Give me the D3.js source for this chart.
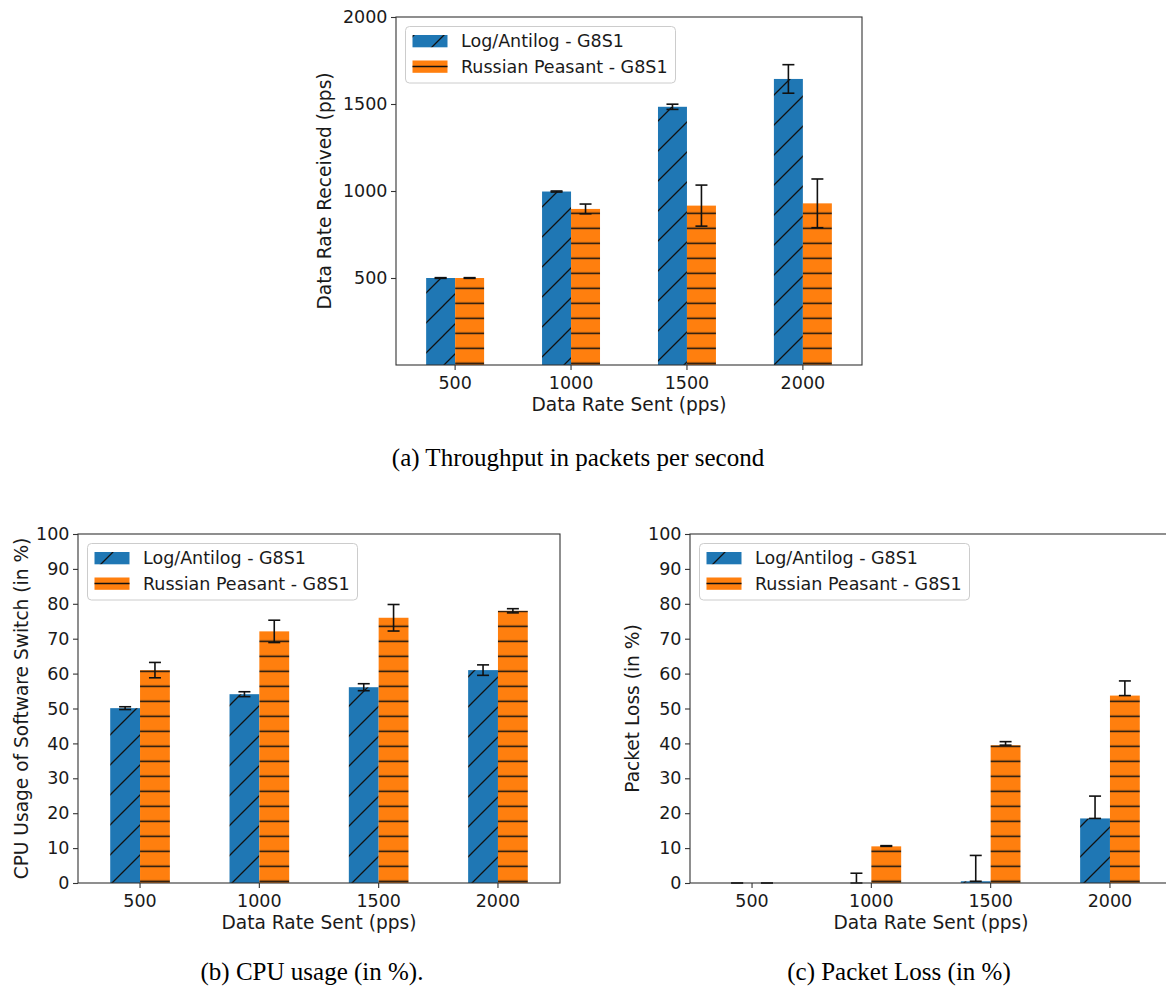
<!DOCTYPE html>
<html><head><meta charset="utf-8">
<script src="https://cdn.jsdelivr.net/npm/d3@7"></script>
<style>body{margin:0;background:#fff}svg{display:block}</style>
</head><body>
<script>
// ---------- data ----------
const categories = ["500", "1000", "1500", "2000"];
const seriesNames = ["Log/Antilog - G8S1", "Russian Peasant - G8S1"];

// (a) throughput (pps)
const throughputLog = [500, 997, 1484, 1644];
const throughputRP = [500, 897, 916, 929];
const throughputLogErr = [2, 3, 15, 82];
const throughputRPErr = [2, 28, 118, 140];
const throughputTicks = [500, 1000, 1500, 2000];

// (b) CPU usage (%)
const cpuLog = [50.1, 54.1, 56.1, 61.0];
const cpuRP = [61.0, 72.1, 76.0, 78.0];
const cpuLogErr = [0.4, 0.7, 1.0, 1.5];
const cpuRPErr = [2.2, 3.2, 3.8, 0.6];

// (c) packet loss (%), one-sided (upper) error
const lossLog = [0, 0, 0.5, 18.5];
const lossRP = [0, 10.5, 39.5, 53.7];
const lossLogErrUp = [0, 2.8, 7.4, 6.4];
const lossRPErrUp = [0, 0.2, 1.0, 4.2];

const percentTicks = [0, 10, 20, 30, 40, 50, 60, 70, 80, 90, 100];
const captions = ["(a) Throughput in packets per second", "(b) CPU usage (in %).", "(c) Packet Loss (in %)"];

// ---------- setup ----------
const W = 1166, H = 989;
const BLUE = "#1f77b4", ORANGE = "#ff7f0e";
const FONT = "'DejaVu Sans', sans-serif";
const SERIF = "'Liberation Serif', 'Times New Roman', serif";
const TXT = "#1a1a1a";

const svg = d3.select("body").append("svg").attr("width", W).attr("height", H);
svg.append("rect").attr("width", W).attr("height", H).attr("fill", "#fff");
const defs = svg.append("defs");

function panel(cfg) {
  const { id, left, top, width, height, yMax, yTicks, ylabel, xlabel, vals, errLo, errUp, legendW } = cfg;
  const bottom = top + height;
  const x = d3.scaleBand().domain(categories).range([left, left + width]).paddingInner(0).paddingOuter(cfg.pad);
  const y = d3.scaleLinear().domain([0, yMax]).range([bottom, top]);
  const bw = x.bandwidth() * 0.25;

  // hatch patterns
  const pd = defs.append("pattern").attr("id", id + "-diag").attr("patternUnits", "userSpaceOnUse")
    .attr("width", 30).attr("height", 30).attr("x", left + cfg.diagPhase).attr("y", bottom);
  pd.append("rect").attr("width", 30).attr("height", 30).attr("fill", BLUE);
  pd.append("path").attr("d", "M-3,33L33,-3M-3,3L3,-3M27,33L33,27").attr("stroke", "#111").attr("stroke-width", 1.3);
  const ph = defs.append("pattern").attr("id", id + "-horz").attr("patternUnits", "userSpaceOnUse")
    .attr("width", 20).attr("height", 15).attr("x", left).attr("y", bottom - 1.7 - 7.5);
  ph.append("rect").attr("width", 20).attr("height", 15).attr("fill", ORANGE);
  ph.append("path").attr("d", "M-1,7.5L21,7.5").attr("stroke", "#111").attr("stroke-width", 1.5);

  const fills = [`url(#${id}-diag)`, `url(#${id}-horz)`];
  const g = svg.append("g");

  // bars
  vals.forEach((arr, s) => {
    g.append("g").selectAll("rect").data(arr).join("rect")
      .attr("x", (d, i) => x(categories[i]) + x.bandwidth() / 2 - (s === 0 ? bw : 0))
      .attr("width", bw)
      .attr("y", d => y(d))
      .attr("height", d => bottom - y(d))
      .attr("fill", fills[s]);
  });

  // error bars
  vals.forEach((arr, s) => {
    const eg = g.append("g").attr("stroke", "#111").attr("stroke-width", 1.6).attr("fill", "none");
    arr.forEach((d, i) => {
      const cx = x(categories[i]) + x.bandwidth() / 2 + (s === 0 ? -bw / 2 : bw / 2);
      const y1 = y(d - errLo[s][i]), y2 = y(d + errUp[s][i]);
      eg.append("line").attr("x1", cx).attr("x2", cx).attr("y1", y1).attr("y2", y2);
      eg.append("line").attr("x1", cx - 6).attr("x2", cx + 6).attr("y1", y1).attr("y2", y1);
      eg.append("line").attr("x1", cx - 6).attr("x2", cx + 6).attr("y1", y2).attr("y2", y2);
    });
  });

  // frame
  g.append("rect").attr("x", left).attr("y", top).attr("width", width).attr("height", height)
    .attr("fill", "none").attr("stroke", "#333").attr("stroke-width", 1.1);

  // axes
  const ya = g.append("g").attr("transform", `translate(${left},0)`)
    .call(d3.axisLeft(y).tickValues(yTicks).tickSize(5).tickPadding(3.5).tickFormat(d3.format("d")));
  const xa = g.append("g").attr("transform", `translate(0,${bottom})`)
    .call(d3.axisBottom(x).tickSize(5).tickPadding(6.5));
  [ya, xa].forEach(a => {
    a.select(".domain").remove();
    a.selectAll("line").attr("stroke", "#333").attr("stroke-width", 1.1);
    a.selectAll("text").attr("font-family", FONT).attr("font-size", 17.5).attr("fill", TXT);
  });

  // axis labels
  g.append("text").attr("x", left + width / 2 + (cfg.xlabelShift || 0)).attr("y", bottom + 45.5)
    .attr("text-anchor", "middle").attr("font-family", FONT).attr("font-size", 18.6).attr("fill", TXT).text(xlabel);
  g.append("text").attr("transform", `translate(${cfg.ylabelX},${top + height / 2}) rotate(-90)`)
    .attr("text-anchor", "middle").attr("dominant-baseline", "central")
    .attr("font-family", FONT).attr("font-size", 18.6).attr("fill", TXT).text(ylabel);

  // legend
  const lx = left + 9.5, ly = top + 9.5;
  const lg = g.append("g");
  lg.append("rect").attr("x", lx).attr("y", ly).attr("width", legendW).attr("height", 56.5).attr("rx", 4)
    .attr("fill", "#fff").attr("fill-opacity", 0.8).attr("stroke", "#ccc").attr("stroke-width", 1);
  seriesNames.forEach((name, s) => {
    const cy = ly + 14.5 + s * 25.5;
    lg.append("rect").attr("x", lx + 7).attr("y", cy - 6).attr("width", 35).attr("height", 12.3)
      .attr("fill", s === 0 ? fills[0] : ORANGE);
    if (s === 1) lg.append("line").attr("x1", lx + 7).attr("x2", lx + 42).attr("y1", cy).attr("y2", cy)
      .attr("stroke", "#111").attr("stroke-width", 1.5);
    lg.append("text").attr("x", lx + 55.5).attr("y", cy).attr("dominant-baseline", "central")
      .attr("font-family", FONT).attr("font-size", 17.5).attr("fill", TXT).text(name);
  });
}

panel({
  id: "a", left: 396, top: 17, width: 466, height: 348, pad: 0.01, diagPhase: 18,
  yMax: 2000, yTicks: throughputTicks,
  ylabel: "Data Rate Received (pps)", ylabelX: 324.5, xlabel: "Data Rate Sent (pps)",
  vals: [throughputLog, throughputRP],
  errLo: [throughputLogErr, throughputRPErr], errUp: [throughputLogErr, throughputRPErr],
  legendW: 270
});
panel({
  id: "b", left: 78, top: 534, width: 482, height: 349, pad: 0.02, diagPhase: 4,
  yMax: 100, yTicks: percentTicks,
  ylabel: "CPU Usage of Software Switch (in %)", ylabelX: 21.5, xlabel: "Data Rate Sent (pps)",
  vals: [cpuLog, cpuRP],
  errLo: [cpuLogErr, cpuRPErr], errUp: [cpuLogErr, cpuRPErr],
  legendW: 270
});
panel({
  id: "c", left: 690, top: 534, width: 482, height: 349, pad: 0.02, diagPhase: 4,
  yMax: 100, yTicks: percentTicks,
  ylabel: "Packet Loss (in %)", ylabelX: 632.5, xlabel: "Data Rate Sent (pps)",
  vals: [lossLog, lossRP],
  errLo: [[0, 0, 0, 0], [0, 0, 0, 0]], errUp: [lossLogErrUp, lossRPErrUp],
  legendW: 270
});

// captions
const capPos = [[578, 466], [312, 980], [899, 980]];
captions.forEach((c, i) => {
  svg.append("text").attr("x", capPos[i][0]).attr("y", capPos[i][1]).attr("text-anchor", "middle")
    .attr("font-family", SERIF).attr("font-size", 25).attr("fill", "#000").text(c);
});
</script>
</body></html>
